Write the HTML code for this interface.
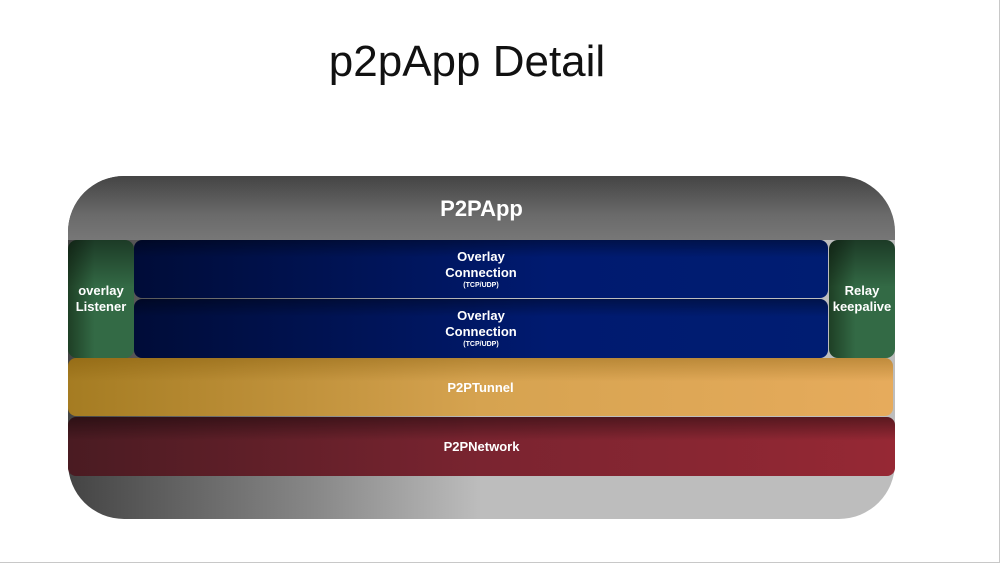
<!DOCTYPE html>
<html><head><style>
body{margin:0;width:1002px;height:565px;background:#fff;position:relative;overflow:hidden;font-family:"Liberation Sans",sans-serif}
.a{position:absolute;box-sizing:border-box;color:#fff;font-weight:bold;text-align:center;display:flex;flex-direction:column;justify-content:center;align-items:center}
</style></head><body>
<div style="position:absolute;right:2px;top:0;width:1px;height:563px;background:#c8c8c8"></div>
<div style="position:absolute;left:0;top:562px;width:1000px;height:1px;background:#c8c8c8"></div>
<div style="position:absolute;left:0;width:934px;top:37px;text-align:center;font-size:44px;color:#111">p2pApp Detail</div>
<div class="a" style="left:68px;top:176px;width:827px;height:343px;border-radius:56px;background:linear-gradient(90deg,#444 0%,#888 30%,#bdbdbd 50%,#bdbdbd 100%)"></div>
<div style="position:absolute;left:68px;top:176px;width:827px;height:64px;border-radius:56px 56px 0 0;background:linear-gradient(180deg,#444,#6a6a6a 60%,#777)"></div>
<div class="a" style="left:68px;top:194px;width:827px;height:30px;font-size:22px">P2PApp</div>
<div class="a" style="left:68px;top:240px;width:66px;height:118px;border-radius:9px;font-size:13px;line-height:16px;background:linear-gradient(180deg,rgba(0,0,0,.45),rgba(0,0,0,0) 40%),linear-gradient(90deg,#1e3f25,#336a45 40%,#336a45)">overlay<br>Listener</div>
<div class="a" style="left:134px;top:240px;width:694px;height:58px;border-radius:8px;font-size:13px;line-height:16px;background:linear-gradient(180deg,rgba(0,0,0,.35),rgba(0,0,0,0) 30%),linear-gradient(90deg,#000c38,#001a70 60%,#001d72)">Overlay<br>Connection<span style="font-size:7px;line-height:9px">(TCP/UDP)</span></div>
<div class="a" style="left:134px;top:299px;width:694px;height:59px;border-radius:8px;font-size:13px;line-height:16px;background:linear-gradient(180deg,rgba(0,0,0,.35),rgba(0,0,0,0) 30%),linear-gradient(90deg,#000c38,#001a70 60%,#001d72)">Overlay<br>Connection<span style="font-size:7px;line-height:9px">(TCP/UDP)</span></div>
<div class="a" style="left:829px;top:240px;width:66px;height:118px;border-radius:9px;font-size:13px;line-height:16px;background:linear-gradient(180deg,rgba(0,0,0,.45),rgba(0,0,0,0) 40%),linear-gradient(90deg,#1e3f25,#336a45 40%,#336a45)">Relay<br>keepalive</div>
<div class="a" style="left:68px;top:358px;width:825px;height:58px;border-radius:8px;font-size:13px;background:linear-gradient(180deg,rgba(120,80,0,.35),rgba(0,0,0,0) 40%),linear-gradient(90deg,#a57c22,#d6a350 50%,#e6ab5c)">P2PTunnel</div>
<div class="a" style="left:68px;top:417px;width:827px;height:59px;border-radius:8px;font-size:13px;background:linear-gradient(180deg,rgba(0,0,0,.4),rgba(0,0,0,0) 40%),linear-gradient(90deg,#4a1b22,#7a2430 50%,#962834)">P2PNetwork</div>
</body></html>
